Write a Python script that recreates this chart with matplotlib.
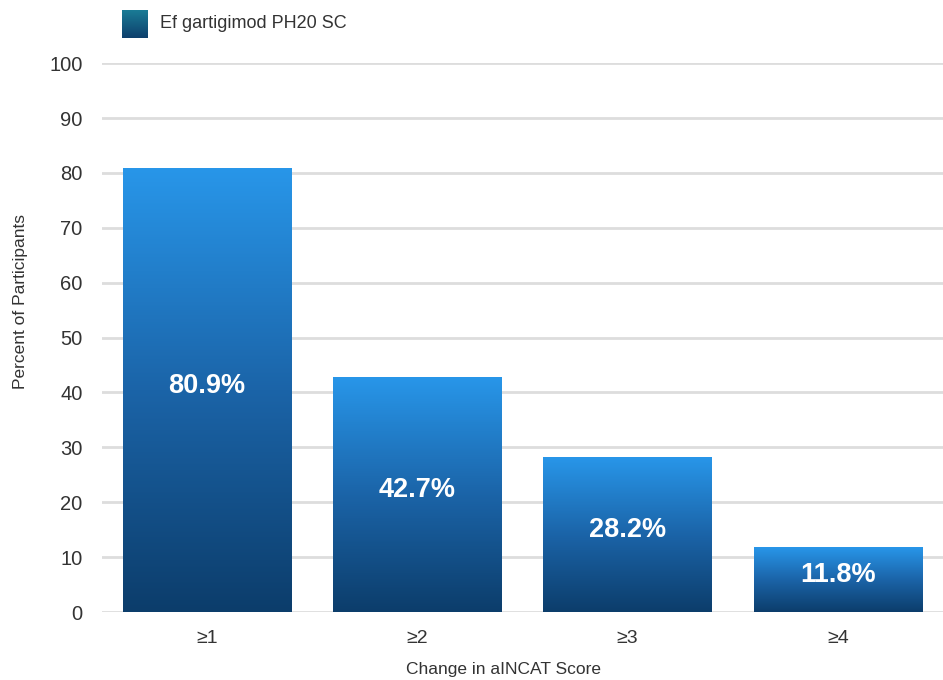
import numpy as np
import matplotlib.pyplot as plt
from matplotlib.colors import LinearSegmentedColormap

plt.rcParams['font.family'] = ['Liberation Sans', 'DejaVu Sans']

categories = ["≥1", "≥2", "≥3", "≥4"]
percent = [80.9, 42.7, 28.2, 11.8]
series_name = "Ef gartigimod PH20 SC"

# dark navy at the base, bright blue at the top of each bar
bar_cmap = LinearSegmentedColormap.from_list("bar", ["#0C3D6B", "#1B64A8", "#2896E9"])
swatch_cmap = LinearSegmentedColormap.from_list("swatch", ["#0E3F6C", "#1A7C96"])
grad = np.linspace(0, 1, 256).reshape(-1, 1)

fig = plt.figure(figsize=(9.43, 6.80), dpi=100)
ax = fig.add_axes([0.108, 0.10, 0.892, 0.807])

x = np.arange(len(categories))
width = 0.8
bars = ax.bar(x, percent, width=width, color="none", zorder=2)
for b, v in zip(bars, percent):
    x0 = b.get_x()
    ax.imshow(grad, cmap=bar_cmap, origin="lower", aspect="auto",
              extent=(x0, x0 + width, 0, v), zorder=2)
    ax.text(b.get_x() + width / 2, v / 2 + 0.8, f"{v}%", ha="center", va="center",
            color="white", fontsize=19.5, fontweight="bold", zorder=3)

ax.set_xlim(-0.5, len(categories) - 0.5)
ax.set_ylim(0, 100)
ax.set_yticks(range(0, 101, 10))
ax.set_xticks(x)
ax.set_xticklabels(categories)
ax.yaxis.grid(True, color="#DDDDDD", linewidth=2, zorder=0)
ax.set_axisbelow(True)
for s in ax.spines.values():
    s.set_visible(False)
ax.tick_params(axis="y", length=0, pad=14, labelsize=14.5, labelcolor="#333333")
ax.tick_params(axis="x", length=0, pad=13, labelsize=14, labelcolor="#333333")
ax.set_ylabel("Percent of Participants", fontsize=12.5, color="#333333")
ax.yaxis.set_label_coords(-0.088, 0.566)
ax.set_xlabel("Change in aINCAT Score", fontsize=12.5, color="#333333")
ax.xaxis.set_label_coords(0.478, -0.092)

# legend swatch with its own gradient
sw = fig.add_axes([122 / 943, 1 - 38 / 680, 26 / 943, 28 / 680])
sw.imshow(grad, cmap=swatch_cmap, origin="lower", aspect="auto")
sw.axis("off")
fig.text(160 / 943, 1 - 24 / 680, series_name, ha="left", va="center",
         fontsize=13, color="#333333")

fig.savefig("out.png", dpi=100)
